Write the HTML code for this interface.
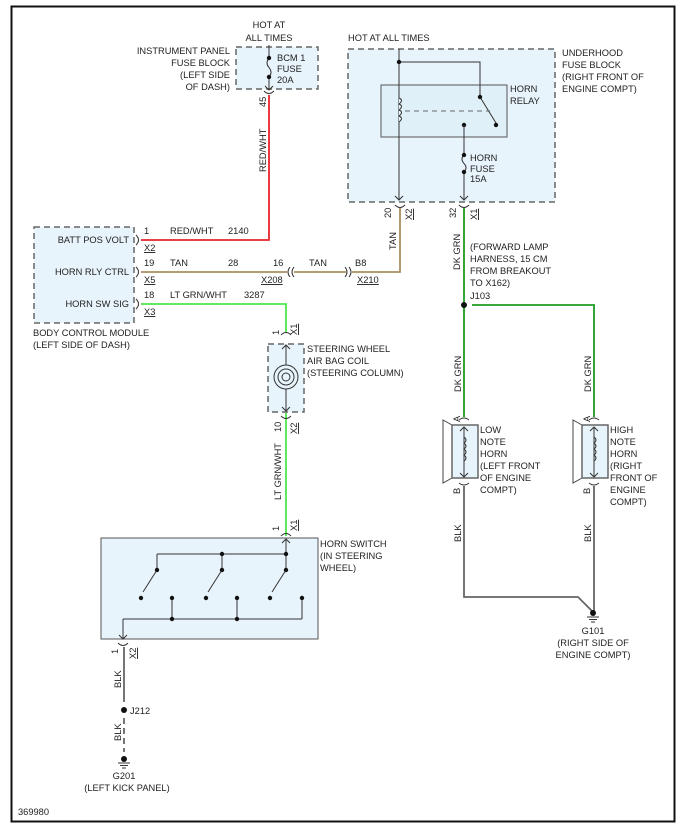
<!DOCTYPE html>
<html><head><meta charset="utf-8"><style>
html,body{margin:0;padding:0;background:#fff;}
svg{display:block;}
text{font-family:"Liberation Sans",sans-serif;font-size:9.3px;fill:#222;}
.dash{fill:#e8f4fb;stroke:#666;stroke-width:1.5;stroke-dasharray:6,4;}
.k{stroke:#333;stroke-width:1;fill:none;}
.u{text-decoration:underline;}
</style></head><body>
<svg width="692" height="829" viewBox="0 0 692 829" xmlns="http://www.w3.org/2000/svg">
<rect x="11.5" y="6.5" width="663" height="815" fill="#fff" stroke="#111" stroke-width="2"/>

<!-- IP fuse block -->
<rect class="dash" x="236" y="47" width="82" height="42"/>
<text x="269" y="28" text-anchor="middle">HOT AT</text>
<text x="269" y="41" text-anchor="middle">ALL TIMES</text>
<text x="230" y="54" text-anchor="end">INSTRUMENT PANEL</text>
<text x="230" y="66" text-anchor="end">FUSE BLOCK</text>
<text x="230" y="78" text-anchor="end">(LEFT SIDE</text>
<text x="230" y="90" text-anchor="end">OF DASH)</text>
<text x="277" y="61">BCM 1</text>
<text x="277" y="72">FUSE</text>
<text x="277" y="83">20A</text>
<path class="k" d="M269 45V58 M269 77V90 M265 86L269 90L273 86"/>
<path class="k" d="M269 58q-4 5 0 9.5q4 5 0 9.5"/>
<circle cx="269" cy="58" r="2.2" fill="#111"/><circle cx="269" cy="77" r="2.2" fill="#111"/>
<path class="k" d="M264 91q5 5 10 0"/>
<text transform="translate(266,107) rotate(-90)">45</text>
<text transform="translate(266,172) rotate(-90)">RED/WHT</text>
<path d="M269 95V240H141" stroke="#e8252a" stroke-width="1.8" fill="none"/>

<!-- BCM -->
<rect class="dash" x="34" y="227" width="100" height="96"/>
<text x="129" y="243" text-anchor="end">BATT POS VOLT</text>
<text x="129" y="275" text-anchor="end">HORN RLY CTRL</text>
<text x="129" y="307" text-anchor="end">HORN SW SIG</text>
<text x="33" y="336">BODY CONTROL MODULE</text>
<text x="33" y="348">(LEFT SIDE OF DASH)</text>
<path class="k" d="M136 235q5 5 0 10 M136 267q5 5 0 10 M136 299q5 5 0 10"/>
<text x="144" y="234">1</text><text x="170" y="234">RED/WHT</text><text x="228" y="234">2140</text>
<text x="144" y="251" class="u">X2</text>
<text x="144" y="266">19</text><text x="170" y="266">TAN</text><text x="228" y="266">28</text><text x="273" y="266">16</text>
<text x="144" y="283" class="u">X5</text><text x="261" y="283" class="u">X208</text>
<text x="144" y="298">18</text><text x="170" y="298">LT GRN/WHT</text><text x="244" y="298">3287</text>
<text x="144" y="315" class="u">X3</text>
<text x="309" y="266">TAN</text><text x="355" y="266">B8</text><text x="357" y="283" class="u">X210</text>
<path d="M141 272H287 M294 272H346 M352 272H400V208" stroke="#a89060" stroke-width="1.8" fill="none"/>
<path class="k" d="M290 267q-4 5 0 10 M294 267q-4 5 0 10 M345 267q4 5 0 10 M349 267q4 5 0 10"/>
<path d="M141 304H286V332 M286 413V536" stroke="#4de84d" stroke-width="1.8" fill="none"/>

<!-- Underhood -->
<rect class="dash" x="348" y="49" width="207" height="153"/>
<text x="348" y="41">HOT AT ALL TIMES</text>
<text x="562" y="56">UNDERHOOD</text>
<text x="562" y="68">FUSE BLOCK</text>
<text x="562" y="80">(RIGHT FRONT OF</text>
<text x="562" y="92">ENGINE COMPT)</text>
<rect x="381" y="85" width="126" height="52" fill="#dff0f8" stroke="#555" stroke-width="1"/>
<text x="510" y="92">HORN</text><text x="510" y="104">RELAY</text>
<path class="k" d="M399 49V200 M395 196L399 200L403 196 M399 62H480V97 M480 97L496 123"/>
<circle cx="399" cy="62" r="2.2" fill="#111"/><circle cx="480" cy="97" r="2.2" fill="#111"/><circle cx="496" cy="125" r="2.2" fill="#111"/>
<path d="M399 98q5 2 0 6q5 2 0 6q5 2 0 6q5 2 0 6" stroke="#333" fill="#e8f4fb"/>
<path d="M405 111H490" stroke="#666" stroke-dasharray="5,4"/>
<circle cx="464" cy="125" r="2.2" fill="#111"/>
<path class="k" d="M464 125V155 M464 172V200 M460 196L464 200L468 196 M464 155q-4 4 0 8.5q4 4 0 8.5"/>
<circle cx="464" cy="155" r="2.2" fill="#111"/><circle cx="464" cy="172" r="2.2" fill="#111"/>
<text x="470" y="161">HORN</text><text x="470" y="172">FUSE</text><text x="470" y="182">15A</text>
<path class="k" d="M395 205q5 5 10 0 M459 205q5 5 10 0"/>
<text transform="translate(391,218) rotate(-90)">20</text>
<text transform="translate(412,220) rotate(-90)" class="u">X2</text>
<text transform="translate(456,218) rotate(-90)">32</text>
<text transform="translate(477,220) rotate(-90)" class="u">X1</text>
<text transform="translate(396,250) rotate(-90)">TAN</text>
<text transform="translate(460,270) rotate(-90)">DK GRN</text>
<text x="470" y="250">(FORWARD LAMP</text>
<text x="470" y="262">HARNESS, 15 CM</text>
<text x="470" y="274">FROM BREAKOUT</text>
<text x="470" y="286">TO X162)</text>
<text x="470" y="299">J103</text>
<path d="M464 208V417 M472 305H594V417" stroke="#1e9a1e" stroke-width="1.8" fill="none"/>
<circle cx="464" cy="305" r="3" fill="#111"/>
<text transform="translate(461,392) rotate(-90)">DK GRN</text>
<text transform="translate(591,392) rotate(-90)">DK GRN</text>

<!-- Horns -->
<g id="h1">
<path d="M443 420L452 425V478L443 483Z" fill="#fff" stroke="#444"/>
<rect x="452" y="425" width="26" height="53" fill="#e8f4fb" stroke="#666" stroke-width="1.5"/>
<path class="k" d="M464 427V477 M460 431L464 427L468 431 M460 473L464 477L468 473 M459 420q5 -4 10 0 M459 483q5 4 10 0"/>
<path d="M464 437q4 3 0 6q4 3 0 6q4 3 0 6q4 3 0 6" stroke="#333" fill="none"/>
<text transform="translate(460,422) rotate(-90)">A</text>
<text transform="translate(460,494) rotate(-90)">B</text>
</g>
<use href="#h1" transform="translate(130,0)"/>
<text x="480" y="433">LOW</text><text x="480" y="445">NOTE</text><text x="480" y="457">HORN</text><text x="480" y="469">(LEFT FRONT</text><text x="480" y="481">OF ENGINE</text><text x="480" y="493">COMPT)</text>
<text x="610" y="433">HIGH</text><text x="610" y="445">NOTE</text><text x="610" y="457">HORN</text><text x="610" y="469">(RIGHT</text><text x="610" y="481">FRONT OF</text><text x="610" y="493">ENGINE</text><text x="610" y="505">COMPT)</text>
<path d="M464 486V597H578L593 612 M594 486V612" stroke="#666" stroke-width="1.8" fill="none"/>
<text transform="translate(461,542) rotate(-90)">BLK</text>
<text transform="translate(591,542) rotate(-90)">BLK</text>
<circle cx="593" cy="613" r="3" fill="#111"/>
<path class="k" d="M587 617H599 M589 619.5H597 M591 622H595"/>
<text x="593" y="634" text-anchor="middle">G101</text>
<text x="593" y="646" text-anchor="middle">(RIGHT SIDE OF</text>
<text x="593" y="658" text-anchor="middle">ENGINE COMPT)</text>

<!-- Steering coil -->
<path class="k" d="M281 335q5 -5 10 0"/>
<text transform="translate(279,335) rotate(-90)">1</text>
<text transform="translate(297,335) rotate(-90)" class="u">X1</text>
<rect class="dash" x="268" y="344" width="36" height="68"/>
<path class="k" d="M286 345V411 M282 349L286 345L290 349 M282 407L286 411L290 407"/>
<circle cx="286" cy="377" r="12" fill="#e8f4fb" stroke="#333"/>
<circle cx="286" cy="377" r="8" fill="none" stroke="#333"/>
<circle cx="286" cy="377" r="4" fill="none" stroke="#333"/>
<text x="307" y="352">STEERING WHEEL</text>
<text x="307" y="364">AIR BAG COIL</text>
<text x="307" y="376">(STEERING COLUMN)</text>
<path class="k" d="M281 416q5 5 10 0"/>
<text transform="translate(281,432) rotate(-90)">10</text>
<text transform="translate(297,434) rotate(-90)" class="u">X2</text>
<text transform="translate(281,500) rotate(-90)">LT GRN/WHT</text>
<path class="k" d="M281 536q5 -5 10 0"/>
<text transform="translate(279,531) rotate(-90)">1</text>
<text transform="translate(297,531) rotate(-90)" class="u">X1</text>

<!-- Horn switch -->
<rect x="101" y="538" width="217" height="101" fill="#e8f4fb" stroke="#555" stroke-width="1"/>
<text x="320" y="547">HORN SWITCH</text>
<text x="320" y="559">(IN STEERING</text>
<text x="320" y="571">WHEEL)</text>
<path class="k" d="M286 539V570 M282 543L286 539L290 543 M157 554H286 M157 554V570 M222 554V570 M157 570L143 592 M222 570L208 592 M286 570L272 592 M172 598V619 M237 598V619 M302 598V619 M123 619H302 M123 619V639 M119 635L123 639L127 635"/>
<g fill="#111">
<circle cx="222" cy="554" r="2.2"/><circle cx="286" cy="554" r="2.2"/>
<circle cx="157" cy="570" r="2.2"/><circle cx="222" cy="570" r="2.2"/><circle cx="286" cy="570" r="2.2"/>
<circle cx="141" cy="598" r="2.2"/><circle cx="206" cy="598" r="2.2"/><circle cx="270" cy="598" r="2.2"/>
<circle cx="172" cy="598" r="2.2"/><circle cx="237" cy="598" r="2.2"/><circle cx="302" cy="598" r="2.2"/>
<circle cx="172" cy="619" r="2.2"/><circle cx="237" cy="619" r="2.2"/>
</g>
<path class="k" d="M118 643q5 5 10 0"/>
<text transform="translate(118,654) rotate(-90)">1</text>
<text transform="translate(136,659) rotate(-90)" class="u">X2</text>
<path d="M124 647V702" stroke="#666" stroke-width="1.8"/>
<text transform="translate(121,688) rotate(-90)">BLK</text>
<circle cx="124" cy="710" r="3" fill="#111"/>
<text x="130" y="714">J212</text>
<path d="M124 718V752" stroke="#666" stroke-width="1.8" stroke-dasharray="6,4"/>
<text transform="translate(121,741) rotate(-90)">BLK</text>
<circle cx="124" cy="759" r="3" fill="#111"/>
<path class="k" d="M118 763H130 M120 765.5H128 M122 768H126"/>
<text x="124" y="779" text-anchor="middle">G201</text>
<text x="127" y="791" text-anchor="middle">(LEFT KICK PANEL)</text>
<text x="18" y="815">369980</text>
</svg>
</body></html>
